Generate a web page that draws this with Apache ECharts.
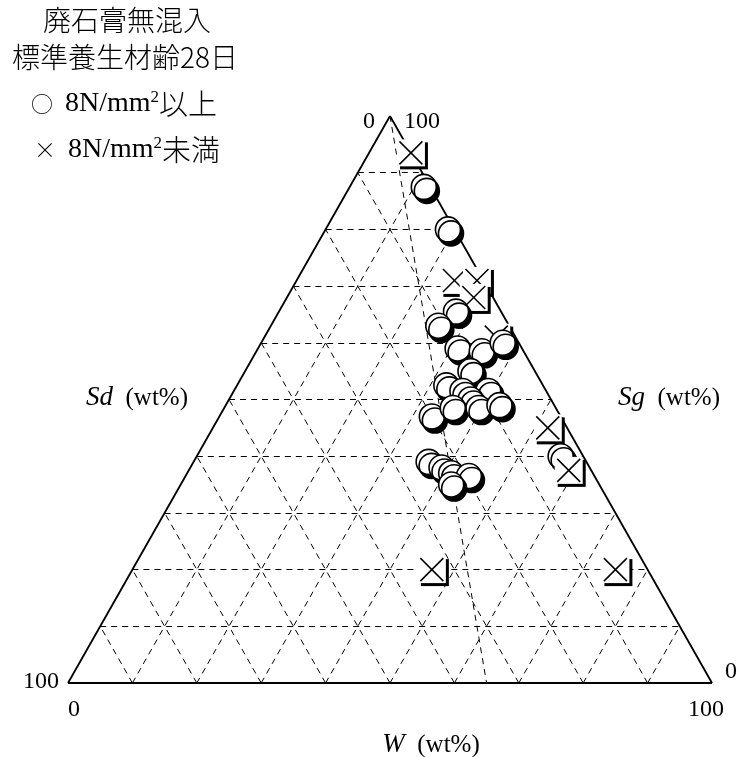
<!DOCTYPE html>
<html><head><meta charset="utf-8">
<script src="https://cdn.jsdelivr.net/npm/echarts@6/dist/echarts.min.js"></script>
<style>html,body{margin:0;padding:0;background:#fff}#c{width:740px;height:757px}</style>
</head><body><div id="c"></div>
<script>
// ---- Data (wt%) ----
// 8N/mm2 以上 (circles)
const circleSd = [1, 1, 7, 11, 10, 6.5, 2.5, 10, 15, 13, 9, 12.5, 20, 16, 12, 8.5, 3.5, 24.5, 23, 22, 19.5, 23];
const circleSg = [87.5, 80, 65.5, 63, 59, 58.5, 60, 55, 52.5, 51.5, 51.5, 50, 47, 48.5, 48.5, 49, 40, 39, 38, 37, 36.5, 35];
const circleW  = [11.5, 19, 27.5, 26, 31, 35, 37.5, 35, 32.5, 35.5, 39.5, 37.5, 33, 35.5, 39.5, 42.5, 56.5, 36.5, 39, 41, 44, 42];
// 8N/mm2 未満 (crosses)
const crossSd = [0, 4.5, 1, 3, 3, 3, 3.5, 33.5, 5];
const crossSg = [93.5, 71, 71, 68, 61, 45, 37.5, 20, 20];
const crossW  = [6.5, 24.5, 28, 29, 36, 52, 59, 46.5, 75];
// grid ticks and guide line
const gridTicks = [10, 20, 30, 40, 50, 60, 70, 80, 90];
const guideFrom = {Sd: 0, Sg: 100, W: 0};
const guideTo = {Sd: 35, Sg: 0, W: 65};
const vertexLabels = ['0', '100'];
const titleLines = ['廃石膏無混入', '標準養生材齢28日'];
const axisNames = ['Sd', 'Sg', 'W'];

// ---- ternary -> cartesian ----
function tern(sd, sg, w) {
  const s = sd + sg + w;
  return [100 * (w + sg / 2) / s, 100 * sg / s];
}
const circleData = circleSd.map((v, i) => tern(v, circleSg[i], circleW[i]));
const crossData = crossSd.map((v, i) => tern(v, crossSg[i], crossW[i]));
const crossUnder = crossData.slice(0, 6);
const crossOver = crossData.slice(6);

const gridLines = [];
gridTicks.forEach(t => {
  gridLines.push({coords: [tern(100 - t, t, 0), tern(0, t, 100 - t)]});
  gridLines.push({coords: [tern(100 - t, 0, t), tern(0, 100 - t, t)]});
  gridLines.push({coords: [tern(t, 0, 100 - t), tern(t, 100 - t, 0)]});
});
gridLines.push({coords: [tern(guideFrom.Sd, guideFrom.Sg, guideFrom.W), tern(guideTo.Sd, guideTo.Sg, guideTo.W)]});
const edges = [
  {coords: [tern(100, 0, 0), tern(0, 0, 100)]},
  {coords: [tern(0, 0, 100), tern(0, 100, 0)]},
  {coords: [tern(0, 100, 0), tern(100, 0, 0)]}
];

function crossItem(params, api) {
  const p = api.coord([api.value(0), api.value(1)]);
  const a = 11.5;
  return {type: 'group', children: [
    {type: 'rect', shape: {x: p[0] - 14, y: p[1] - 13.5, width: 28, height: 27},
     style: {fill: '#fff', shadowColor: '#000', shadowBlur: 0, shadowOffsetX: 3, shadowOffsetY: 3}},
    {type: 'line', shape: {x1: p[0] - a, y1: p[1] - a, x2: p[0] + a, y2: p[1] + a}, style: {stroke: '#000', lineWidth: 1.5}},
    {type: 'line', shape: {x1: p[0] - a, y1: p[1] + a, x2: p[0] + a, y2: p[1] - a}, style: {stroke: '#000', lineWidth: 1.5}}
  ]};
}

const serif = '"Liberation Serif", "Noto Sans CJK JP"';
const cjk = '"Noto Sans CJK JP"';
function txt(x, y, text, size, extra) {
  return Object.assign({type: 'text', x: x, y: y, silent: true,
    style: Object.assign({text: text, fill: '#000', font: size + 'px ' + serif, align: 'center', verticalAlign: 'middle'}, extra || {})});
}
const rich = {
  sup: {fontSize: 17, fontFamily: serif, verticalAlign: 'top', lineHeight: 17},
  t: {fontSize: 28, fontFamily: serif, lineHeight: 30, padding: [0, 0, 0, 12]},
  m: {fontSize: 22, fontFamily: cjk, fontWeight: 300, lineHeight: 30},
  j: {fontSize: 29, fontFamily: cjk, fontWeight: 300, lineHeight: 30},
  i: {fontStyle: 'italic', fontSize: 27, fontFamily: serif},
  n: {fontSize: 25, fontFamily: serif}
};

const chart = echarts.init(document.getElementById('c'), null, {renderer: 'canvas'});
chart.setOption({
  animation: false,
  grid: {left: 68, right: 28, top: 116, bottom: 74, show: false},
  xAxis: {type: 'value', min: 0, max: 100, show: false},
  yAxis: {type: 'value', min: 0, max: 100, show: false},
  series: [
    {type: 'lines', coordinateSystem: 'cartesian2d', silent: true, z: 1, data: gridLines,
     lineStyle: {color: '#000', width: 1, type: [6, 5], opacity: 1}},
    {type: 'lines', coordinateSystem: 'cartesian2d', silent: true, z: 2, data: edges,
     lineStyle: {color: '#000', width: 1.8, type: 'solid', opacity: 1}},
    {type: 'custom', coordinateSystem: 'cartesian2d', z: 3, data: crossUnder, renderItem: crossItem, silent: true},
    {type: 'scatter', z: 4, data: circleData, symbol: 'circle', symbolSize: 25, silent: true,
     itemStyle: {color: '#fff', borderColor: '#000', borderWidth: 1.6, opacity: 1,
       shadowColor: '#000', shadowBlur: 0, shadowOffsetX: 3, shadowOffsetY: 4}},
    {type: 'custom', coordinateSystem: 'cartesian2d', z: 5, data: crossOver, renderItem: crossItem, silent: true}
  ],
  graphic: [
    txt(127, 20, titleLines[0], 28, {font: '300 28px ' + cjk}),
    txt(125, 57, titleLines[1], 28, {font: '300 28px ' + cjk}),
    txt(31, 104, '{m|○}{t|8N/mm}{sup|2}{j|以上}', 27, {align: 'left', rich: rich}),
    txt(34, 150, '{m|×}{t|8N/mm}{sup|2}{j|未満}', 27, {align: 'left', rich: rich}),
    txt(369, 122, vertexLabels[0], 24),
    txt(422, 122, vertexLabels[1], 24),
    txt(41, 682, vertexLabels[1], 24),
    txt(74, 710, vertexLabels[0], 24),
    txt(731, 672, vertexLabels[0], 24),
    txt(706, 710, vertexLabels[1], 24),
    txt(137, 398, '{i|' + axisNames[0] + '}  {n|(wt%)}', 25, {rich: rich}),
    txt(669, 398, '{i|' + axisNames[1] + '}  {n|(wt%)}', 25, {rich: rich}),
    txt(431, 745, '{i|' + axisNames[2] + '}  {n|(wt%)}', 25, {rich: rich})
  ]
});
</script></body></html>
